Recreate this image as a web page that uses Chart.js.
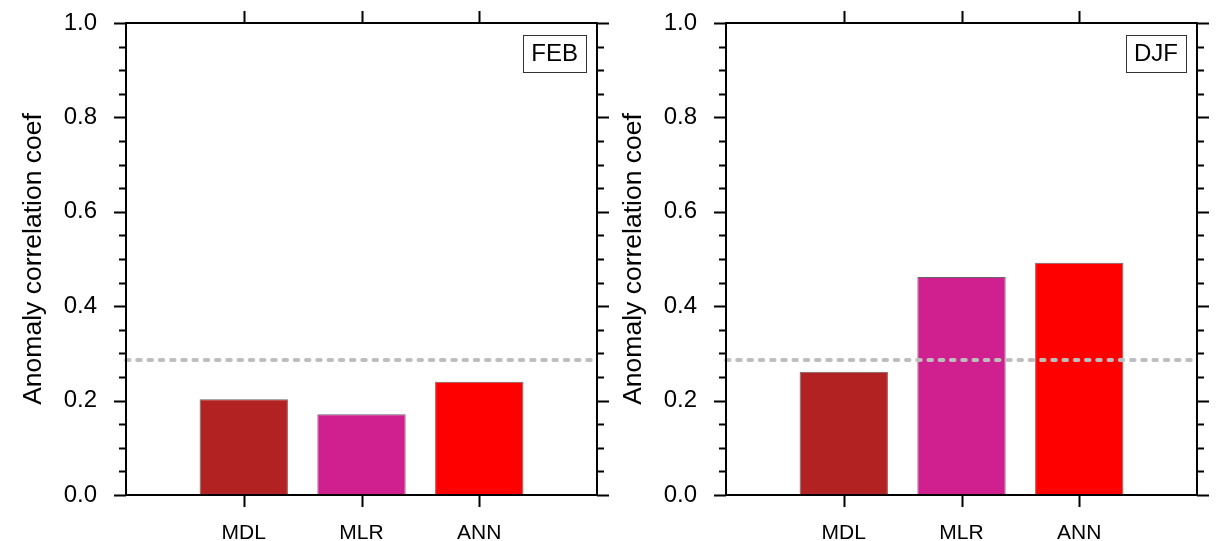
<!DOCTYPE html>
<html>
<head>
<meta charset="utf-8">
<script src="https://cdn.jsdelivr.net/npm/chart.js@4/dist/chart.umd.min.js"></script>
<style>
  body { margin: 0; background: #fff; }
  .panel { position: absolute; top: 0; }
</style>
</head>
<body>
<canvas id="febChart" class="panel" style="left:0px" width="621" height="541"></canvas>
<canvas id="djfChart" class="panel" style="left:600px" width="621" height="541"></canvas>
<script>
// categories (empty slots at both ends keep the bars centred like the original)
const categories = ['', 'MDL', 'MLR', 'ANN', ''];
const bar_colors = ['#ffffff', '#B22222', '#D02090', '#FF0000', '#ffffff'];

const feb_values = [null, 0.203, 0.171, 0.240, null];
const djf_values = [null, 0.261, 0.462, 0.492, null];

// significance level (dashed grey line)
const sig_line = [0.286, 0.286, 0.286, 0.286, 0.286];

const y_ticks_major = [0, 0.2, 0.4, 0.6, 0.8, 1.0];

const fontFamily = '"Liberation Sans", Arial, Helvetica, sans-serif';

const frameTicks = {
  id: 'frameTicks',
  afterDraw(chart, args, opts) {
    const ctx = chart.ctx;
    const a = chart.chartArea;
    const xs = chart.scales.x;
    const ys = chart.scales.y;
    ctx.save();
    ctx.strokeStyle = '#000';
    ctx.lineWidth = 2;
    ctx.strokeRect(a.left, a.top, a.right - a.left, a.bottom - a.top);

    ctx.beginPath();
    // y ticks, major every 0.2 and minor every 0.05, outward on both sides
    for (let i = 0; i <= 20; i++) {
      const py = Math.round(ys.getPixelForValue(i * 0.05)) + 0.5;
      const len = (i % 4 == 0) ? 12 : 7;
      ctx.moveTo(a.left, py);
      ctx.lineTo(a.left - len, py);
      ctx.moveTo(a.right, py);
      ctx.lineTo(a.right + len, py);
    }
    // category ticks top and bottom
    for (let i = 1; i < categories.length - 1; i++) {
      const px = Math.round(xs.getPixelForValue(i)) + 0.5;
      ctx.moveTo(px, a.bottom);
      ctx.lineTo(px, a.bottom + 12);
      ctx.moveTo(px, a.top);
      ctx.lineTo(px, a.top - 12);
    }
    ctx.stroke();

    // season label box in upper right corner
    ctx.font = '24px ' + fontFamily;
    const tw = ctx.measureText(opts.text).width;
    const bw = tw + 16;
    const bh = 37;
    const bx = a.right - 11 - bw;
    const by = a.top + 12;
    ctx.lineWidth = 1;
    ctx.strokeStyle = '#333';
    ctx.strokeRect(Math.round(bx) + 0.5, Math.round(by) + 0.5, Math.round(bw), bh);
    ctx.fillStyle = '#000';
    ctx.textAlign = 'center';
    ctx.textBaseline = 'middle';
    ctx.fillText(opts.text, bx + bw / 2, by + bh / 2 + 1);
    ctx.restore();
  }
};

function makeChart(canvasId, values, season) {
  const canvas = document.getElementById(canvasId);
  return new Chart(
    canvas,
    {
      type: 'bar',
      data: {
        labels: categories,
        datasets: [
          {
            type: 'line',
            data: sig_line,
            borderColor: '#BEBEBE',
            borderWidth: 4,
            borderCapStyle: 'round',
            borderDash: [3.5, 7.75],
            pointRadius: 0,
            fill: false,
            order: 0
          },
          {
            type: 'bar',
            data: values,
            backgroundColor: bar_colors,
            borderColor: '#666666',
            borderWidth: 1,
            barPercentage: 0.75,
            categoryPercentage: 1.0,
            order: 1
          },
        ]
      },
      options: {
        responsive: false,
        animation: false,
        layout: { padding: { top: 23, right: 24, left: 0, bottom: 0 } },
        plugins: {
          legend: { display: false },
          tooltip: { enabled: false },
          frameTicks: { text: season }
        },
        scales: {
          x: {
            offset: false,
            grid: { display: false, drawTicks: false },
            border: { display: false },
            ticks: {
              autoSkip: false,
              maxRotation: 0,
              padding: 26,
              color: '#000',
              font: { family: fontFamily, size: 21 }
            },
            afterFit(scale) {
              scale.height = 46;
              scale.paddingLeft = 0;
              scale.paddingRight = 0;
            }
          },
          y: {
            min: 0,
            max: 1,
            grid: { display: false, drawTicks: false },
            border: { display: false },
            afterBuildTicks(scale) {
              scale.ticks = y_ticks_major.map(v => ({ value: v }));
            },
            ticks: {
              padding: 29,
              color: '#000',
              font: { family: fontFamily, size: 24 },
              callback: function(value) { return Number(value).toFixed(1); }
            },
            title: {
              display: true,
              text: 'Anomaly correlation coef',
              color: '#000',
              font: { family: fontFamily, size: 26.5 },
              padding: { top: 18, bottom: 0 }
            },
            afterFit(scale) {
              scale.width = 126;
              scale.paddingTop = 0;
              scale.paddingBottom = 0;
            }
          }
        }
      },
      plugins: [frameTicks]
    }
  );
}

makeChart('febChart', feb_values, 'FEB');
makeChart('djfChart', djf_values, 'DJF');
</script>
</body>
</html>
